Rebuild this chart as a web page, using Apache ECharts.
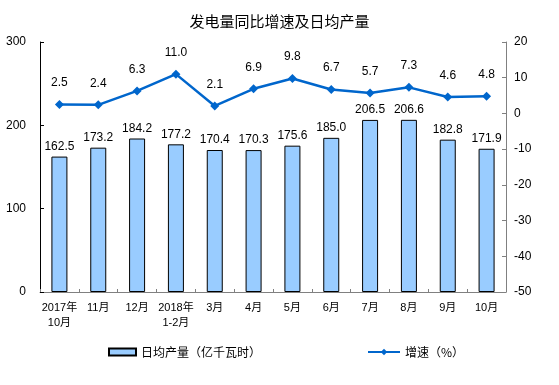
<!DOCTYPE html>
<html><head><meta charset="utf-8">
<script src="https://cdn.jsdelivr.net/npm/echarts@6/dist/echarts.min.js"></script>
<style>html,body{margin:0;padding:0;background:#fff}#c{width:559px;height:385px}</style>
</head><body><div id="c"></div>
<script>
const categories = ['2017年\n10月','11月','12月','2018年\n1-2月','3月','4月','5月','6月','7月','8月','9月','10月'];
const dailyOutput = [162.5,173.2,184.2,177.2,170.4,170.3,175.6,185.0,206.5,206.6,182.8,171.9];
const growthRate = [2.5,2.4,6.3,11.0,2.1,6.9,9.8,6.7,5.7,7.3,4.6,4.8];
const leftTicks = [0,100,200,300];
const rightTicks = [-50,-40,-30,-20,-10,0,10,20];

const font = 'Arial, "Liberation Sans", "Noto Sans CJK SC", sans-serif';
const cjk = '"Noto Sans CJK SC", sans-serif';
const chart = echarts.init(document.getElementById('c'));
chart.setOption({
  animation:false,
  backgroundColor:'#fff',
  title:{text:'发电量同比增速及日均产量',left:'center',top:9,
    textStyle:{fontFamily:cjk,fontSize:15,fontWeight:'normal',color:'#000'}},
  grid:{left:40,right:53,top:42,bottom:93},
  legend:[
    {data:[{name:'日均产量（亿千瓦时）',icon:'rect'}],left:103,top:341,itemWidth:27,itemHeight:7,
      textStyle:{fontFamily:cjk,fontSize:12,color:'#000'}},
    {data:['增速（%）'],left:362,top:341,itemWidth:32,itemHeight:8,
      textStyle:{fontFamily:cjk,fontSize:12,color:'#000'}}
  ],
  xAxis:{type:'category',data:categories,
    axisLine:{lineStyle:{color:'#808080',width:1}},
    axisTick:{show:true,inside:true,length:3,lineStyle:{color:'#808080'}},
    axisLabel:{fontFamily:font,fontSize:11,color:'#000',margin:8,lineHeight:15,interval:0}},
  yAxis:[
    {type:'value',min:leftTicks[0],max:leftTicks[leftTicks.length-1],interval:100,
      axisLine:{show:true,lineStyle:{color:'#000'}},
      axisTick:{show:true,inside:true,length:4,lineStyle:{color:'#000'}},
      splitLine:{show:false},
      axisLabel:{fontFamily:font,fontSize:12,color:'#000',margin:14}},
    {type:'value',min:rightTicks[0],max:rightTicks[rightTicks.length-1],interval:10,position:'right',
      axisLine:{show:true,lineStyle:{color:'#808080'}},
      axisTick:{show:true,inside:true,length:4,lineStyle:{color:'#808080'}},
      splitLine:{show:false},
      axisLabel:{fontFamily:font,fontSize:12,color:'#000',margin:8}}
  ],
  series:[
    {name:'日均产量（亿千瓦时）',type:'bar',data:dailyOutput,yAxisIndex:0,barWidth:16,
      itemStyle:{color:'#99CCFF',borderColor:'#000',borderWidth:1},
      label:{show:true,position:'top',distance:4,fontFamily:font,fontSize:12,color:'#000',
        formatter:p=>p.value.toFixed(1)}},
    {name:'增速（%）',type:'line',data:growthRate,yAxisIndex:1,
      symbol:'diamond',symbolSize:9,
      lineStyle:{color:'#0066CC',width:2.5},itemStyle:{color:'#0066CC'},
      label:{show:true,position:'top',distance:11,fontFamily:font,fontSize:12,color:'#000',
        formatter:p=>p.value.toFixed(1)}}
  ]
});
</script></body></html>
